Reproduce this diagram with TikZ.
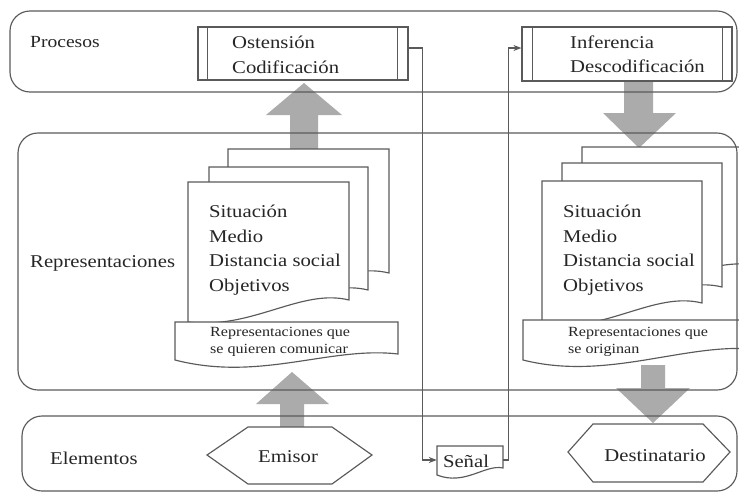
\documentclass[tikz,border=0pt]{standalone}
\usepackage{fontspec}
\setmainfont{Liberation Serif}[FakeStretch=1.15]
\usetikzlibrary{arrows.meta,calc}
\definecolor{ln}{HTML}{5A5A5A}
\definecolor{tx}{HTML}{262626}
\definecolor{ga}{HTML}{ABABAB}
\begin{document}
\begin{tikzpicture}[x=1pt,y=-1pt,
  line/.style={draw=ln, line width=1.15pt},
  band/.style={line, rounded corners=20pt},
  page/.style={line, fill=white},
  procbox/.style={line, fill=white, inner sep=0pt},
  lbl/.style={text=tx, font=\fontsize{18}{22}\selectfont, anchor=west, inner sep=0pt},
  big/.style={text=tx, font=\fontsize{18}{24.5}\selectfont, align=left, anchor=west, inner sep=0pt},
  small/.style={text=tx, font=\fontsize{14}{17}\selectfont, align=left, anchor=west, inner sep=0pt},
  garrow/.style={fill=ga, draw=none},
  conn/.style={line, -{Stealth[length=8pt,width=6pt]}},
]
\useasboundingbox (0,0) rectangle (739,493);
\clip (0,0) rectangle (739,493);

% gray block arrows
\fill[garrow] (290,150) -- (290,115) -- (266,115) -- (304,83) -- (342,115) -- (318,115) -- (318,150) -- cycle;
\fill[garrow] (624,81) -- (653,81) -- (653,113) -- (676,113) -- (639,148) -- (603,113) -- (624,113) -- cycle;
\fill[garrow] (280,427) -- (280,404) -- (256,404) -- (292,372) -- (329,404) -- (304,404) -- (304,427) -- cycle;
\fill[garrow] (641,365) -- (665,365) -- (665,388) -- (690,388) -- (653,423) -- (616,388) -- (641,388) -- cycle;

% left stack of pages
\draw[page] (228,149) -- (389,149) -- (389,273) .. controls (341,261) and (292,303) .. (228,295) -- cycle;
\draw[page] (209,167) -- (368,167) -- (368,290) .. controls (320,278) and (273,320) .. (209,312) -- cycle;
\draw[page] (188,182) -- (349,182) -- (349,300) .. controls (301,288) and (252,330) .. (188,322) -- cycle;
\draw[page] (175,322) -- (398,322) -- (398,354) .. controls (330,346) and (260,382) .. (175,360) -- cycle;

% right stack of pages
\draw[page] (582,147) -- (762,147) -- (762,266) .. controls (708,254) and (654,296) .. (582,288) -- cycle;
\draw[page] (562,163) -- (722,163) -- (722,287) .. controls (674,275) and (626,317) .. (562,309) -- cycle;
\draw[page] (542,181) -- (702,181) -- (702,303) .. controls (654,291) and (606,333) .. (542,325) -- cycle;
\draw[page] (523,320) -- (762,320) -- (762,350) .. controls (690,340) and (610,382) .. (523,360) -- cycle;

% bands
\draw[band] (10,11) rectangle (737,92);
\draw[band] (18,133) rectangle (737,390);
\draw[band] (22,416) rectangle (737,491);

% process boxes
\node[procbox, minimum width=210pt, minimum height=53pt] (ost) at (303,53.5) {};
\draw[line] ([xshift=10pt]ost.north west) -- ([xshift=10pt]ost.south west);
\draw[line] ([xshift=-11pt]ost.north east) -- ([xshift=-11pt]ost.south east);
\node[procbox, minimum width=210pt, minimum height=54pt] (inf) at (627,54) {};
\draw[line] ([xshift=11pt]inf.north west) -- ([xshift=11pt]inf.south west);
\draw[line] ([xshift=-10pt]inf.north east) -- ([xshift=-10pt]inf.south east);

% hexagons
\draw[line, fill=white] (207,455) -- (248,427) -- (332,427) -- (372,455) -- (332,484) -- (248,484) -- cycle;
\draw[line, fill=white] (568,452) -- (593,424) -- (703,424) -- (730,452) -- (703,482) -- (593,482) -- cycle;

% Señal document
\draw[page] (437,446) -- (503,446) -- (503,468) .. controls (485,464) and (465,486) .. (437,475) -- cycle;
\node[inner sep=0pt, minimum width=66pt, minimum height=28pt] (sen) at (470,460) {};

% connectors
\draw[conn] ([yshift=5.5pt]ost.east) -- ++(14,0) |- (sen.west);
\draw[conn] (sen.east) -- ++(5,0) |- ([yshift=6pt]inf.west);

% texts
\node[lbl, font=\fontsize{17}{20}\selectfont] (tproc) at (30,42) {Procesos};
\node[lbl] (trep) at (30,263) {Representaciones};
\node[lbl] (telem) at (50,458) {Elementos};
\node[big] (tost) at (232,55) {Ostensión\\Codificación};
\node[big] (tinf) at (570,54) {Inferencia\\Descodificación};
\node[big] (tsl) at (209,250) {Situación\\Medio\\Distancia social\\Objetivos};
\node[big] (tsr) at (563,250) {Situación\\Medio\\Distancia social\\Objetivos};
\node[small] (tdl) at (210,341.5) {Representaciones que\\se quieren comunicar};
\node[small] (tdr) at (568,341.5) {Representaciones que\\se originan};
\node[lbl, anchor=center] (temi) at (288,457) {Emisor};
\node[lbl, anchor=center] (tdst) at (655,456) {Destinatario};
\node[lbl, anchor=center] (tsen) at (466,461) {Señal};
\end{tikzpicture}
\end{document}
